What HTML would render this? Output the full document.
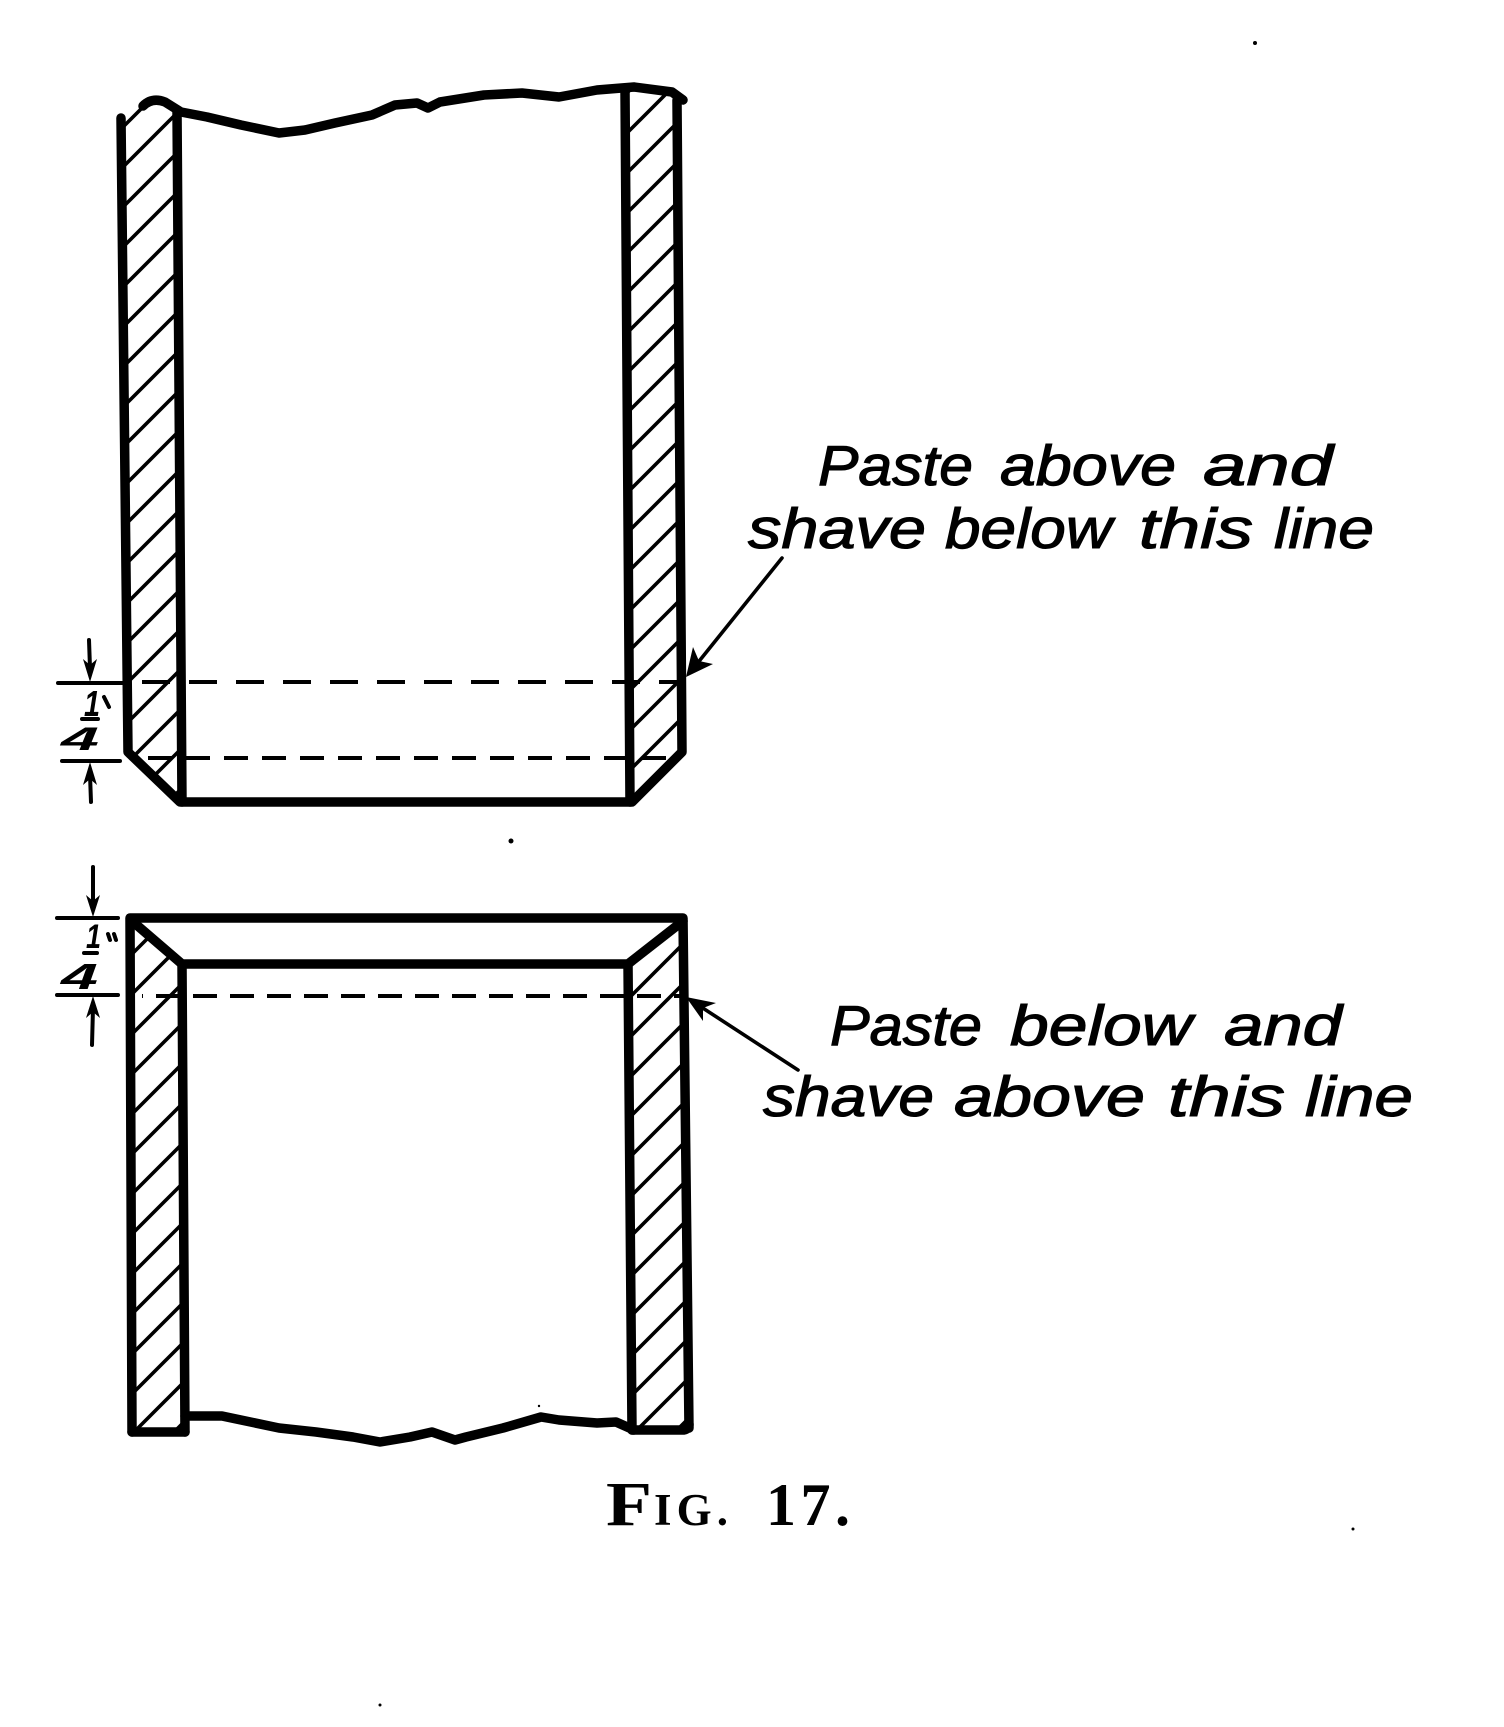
<!DOCTYPE html>
<html>
<head>
<meta charset="utf-8">
<style>
html,body{margin:0;padding:0;background:#fff;}
svg{display:block;}
.lbl{font-family:"Liberation Sans",sans-serif;font-style:italic;font-size:57px;fill:#000;stroke:#000;stroke-width:1.1px;}
.fig{font-family:"Liberation Serif",serif;font-weight:bold;fill:#000;}
.dim{font-family:"Liberation Sans",sans-serif;font-style:italic;font-weight:bold;fill:#000;}
</style>
</head>
<body>
<svg width="1504" height="1727" viewBox="0 0 1504 1727" xmlns="http://www.w3.org/2000/svg">
<defs>
  <pattern id="hA" patternUnits="userSpaceOnUse" width="40" height="40" patternTransform="translate(10,0)">
    <path d="M-10,10 L10,-10 M-10,50 L50,-10 M30,50 L50,30" stroke="#000" stroke-width="3.6"/>
  </pattern>
  <pattern id="hB" patternUnits="userSpaceOnUse" width="40" height="40" patternTransform="translate(0,0)">
    <path d="M-10,10 L10,-10 M-10,50 L50,-10 M30,50 L50,30" stroke="#000" stroke-width="3.6"/>
  </pattern>
  <pattern id="hC" patternUnits="userSpaceOnUse" width="40" height="40" patternTransform="translate(6,0)">
    <path d="M-10,10 L10,-10 M-10,50 L50,-10 M30,50 L50,30" stroke="#000" stroke-width="3.6"/>
  </pattern>
  <pattern id="hD" patternUnits="userSpaceOnUse" width="40" height="40" patternTransform="translate(27,0)">
    <path d="M-10,10 L10,-10 M-10,50 L50,-10 M30,50 L50,30" stroke="#000" stroke-width="3.6"/>
  </pattern>
</defs>
<rect width="1504" height="1727" fill="#fff"/>

<!-- ================= UPPER FIGURE ================= -->
<polygon points="121,116 150,101 177,108 182,802 180,802 128,752" fill="url(#hA)"/>
<polygon points="625,88 677,96 682,752 632,802 628,802" fill="url(#hB)"/>

<line x1="142" y1="682" x2="683" y2="682" stroke="#000" stroke-width="4" stroke-dasharray="28 19"/>
<line x1="148" y1="758" x2="676" y2="758" stroke="#000" stroke-width="4" stroke-dasharray="24 14"/>

<g fill="none" stroke="#000" stroke-width="9.5" stroke-linecap="round" stroke-linejoin="round">
  <path d="M121,118 L128,752 L180,802 L632,802 L682,752 L677,100"/>
  <path d="M177,110 L182,802"/>
  <path d="M625,90 L630,802"/>
  <path d="M143,106 Q152,97 165,102 L181,112 L207,117 L241,125 L279,133 L305,130 L335,123 L372,115 L395,105 L417,103 L428,108 L440,102 L484,95 L522,93 L559,97 L597,90 L634,87 L672,92 L683,100"/>
</g>

<g stroke="#000" stroke-width="4" stroke-linecap="round" fill="none">
  <line x1="58" y1="683" x2="123" y2="683"/>
  <line x1="62" y1="761" x2="120" y2="761"/>
  <line x1="89" y1="640" x2="90" y2="668"/>
  <line x1="90" y1="775" x2="91" y2="802"/>
  <line x1="82" y1="719" x2="98" y2="719"/>
  <line x1="104" y1="697" x2="109" y2="707"/>
</g>
<polygon points="90,682 83,659 90,665 97,659" fill="#000"/>
<polygon points="90,762 83,785 90,779 97,785" fill="#000"/>
<text class="dim" x="84" y="716" font-size="36" textLength="16" lengthAdjust="spacingAndGlyphs">1</text>
<text class="dim" x="61" y="750" font-size="32" textLength="38" lengthAdjust="spacingAndGlyphs">4</text>

<line x1="782" y1="558" x2="692" y2="670" stroke="#000" stroke-width="3.6" stroke-linecap="round"/>
<polygon points="686,677 713,664 699,661 693,647" fill="#000"/>

<text class="lbl" x="818" y="485" textLength="155" lengthAdjust="spacingAndGlyphs">Paste</text>
<text class="lbl" x="1000" y="485" textLength="176" lengthAdjust="spacingAndGlyphs">above</text>
<text class="lbl" x="1203" y="485" textLength="130" lengthAdjust="spacingAndGlyphs">and</text>
<text class="lbl" x="748" y="548" textLength="178" lengthAdjust="spacingAndGlyphs">shave</text>
<text class="lbl" x="945" y="548" textLength="167" lengthAdjust="spacingAndGlyphs">below</text>
<text class="lbl" x="1139" y="548" textLength="114" lengthAdjust="spacingAndGlyphs">this</text>
<text class="lbl" x="1274" y="548" textLength="100" lengthAdjust="spacingAndGlyphs">line</text>

<!-- ================= LOWER FIGURE ================= -->
<polygon points="130,918 182,964 185,1432 132,1432" fill="url(#hC)"/>
<polygon points="683,918 628,964 632,1430 689,1430" fill="url(#hD)"/>

<line x1="142" y1="996" x2="683" y2="996" stroke="#000" stroke-width="4" stroke-dasharray="24 13" stroke-dashoffset="-14"/>

<g fill="none" stroke="#000" stroke-width="9.5" stroke-linecap="round" stroke-linejoin="round">
  <path d="M132,1432 L130,918 L683,918 L689,1428"/>
  <path d="M132,921 L182,964 L628,964 L683,921"/>
  <path d="M182,964 L185,1432"/>
  <path d="M628,964 L632,1430"/>
  <path d="M132,1432 L185,1432"/>
  <path d="M632,1430 L684,1430 Q689,1429 689,1424"/>
  <path d="M185,1416 L222,1416 L241,1420 L279,1428 L316,1432 L353,1437 L380,1442 L410,1437 L432,1432 L455,1440 L466,1437 L503,1428 L541,1417 L559,1420 L597,1423 L616,1422 L634,1430"/>
</g>

<g stroke="#000" stroke-width="4" stroke-linecap="round" fill="none">
  <line x1="57" y1="918" x2="118" y2="918"/>
  <line x1="57" y1="995" x2="118" y2="995"/>
  <line x1="93" y1="867" x2="93" y2="904"/>
  <line x1="93" y1="1008" x2="92" y2="1045"/>
  <line x1="84" y1="953" x2="97" y2="953"/>
  <line x1="108" y1="934" x2="110" y2="940"/>
  <line x1="114" y1="934" x2="116" y2="940"/>
</g>
<polygon points="93,917 86,895 93,901 100,895" fill="#000"/>
<polygon points="93,996 86,1018 93,1012 100,1018" fill="#000"/>
<text class="dim" x="86" y="948" font-size="34" textLength="15" lengthAdjust="spacingAndGlyphs">1</text>
<text class="dim" x="61" y="989" font-size="36" textLength="37" lengthAdjust="spacingAndGlyphs">4</text>

<line x1="798" y1="1070" x2="692" y2="1001" stroke="#000" stroke-width="3.6" stroke-linecap="round"/>
<polygon points="686,997 716,1003 703,1008 703,1021" fill="#000"/>

<text class="lbl" x="830" y="1045" textLength="152" lengthAdjust="spacingAndGlyphs">Paste</text>
<text class="lbl" x="1010" y="1045" textLength="182" lengthAdjust="spacingAndGlyphs">below</text>
<text class="lbl" x="1224" y="1045" textLength="118" lengthAdjust="spacingAndGlyphs">and</text>
<text class="lbl" x="763" y="1116" textLength="171" lengthAdjust="spacingAndGlyphs">shave</text>
<text class="lbl" x="954" y="1116" textLength="191" lengthAdjust="spacingAndGlyphs">above</text>
<text class="lbl" x="1168" y="1116" textLength="117" lengthAdjust="spacingAndGlyphs">this</text>
<text class="lbl" x="1305" y="1116" textLength="108" lengthAdjust="spacingAndGlyphs">line</text>

<text class="fig" x="606" y="1525" font-size="62" textLength="46" lengthAdjust="spacingAndGlyphs">F</text>
<text class="fig" x="654" y="1525" font-size="45" textLength="74" lengthAdjust="spacing">IG.</text>
<text class="fig" x="766" y="1525" font-size="60" textLength="84" lengthAdjust="spacing">17.</text>

<circle cx="1255" cy="43" r="2" fill="#000"/>
<circle cx="511" cy="841" r="2.5" fill="#000"/>
<circle cx="1353" cy="1529" r="1.5" fill="#000"/>
<circle cx="380" cy="1705" r="1.5" fill="#000"/>
<circle cx="539" cy="1406" r="1.2" fill="#000"/>
</svg>
</body>
</html>
